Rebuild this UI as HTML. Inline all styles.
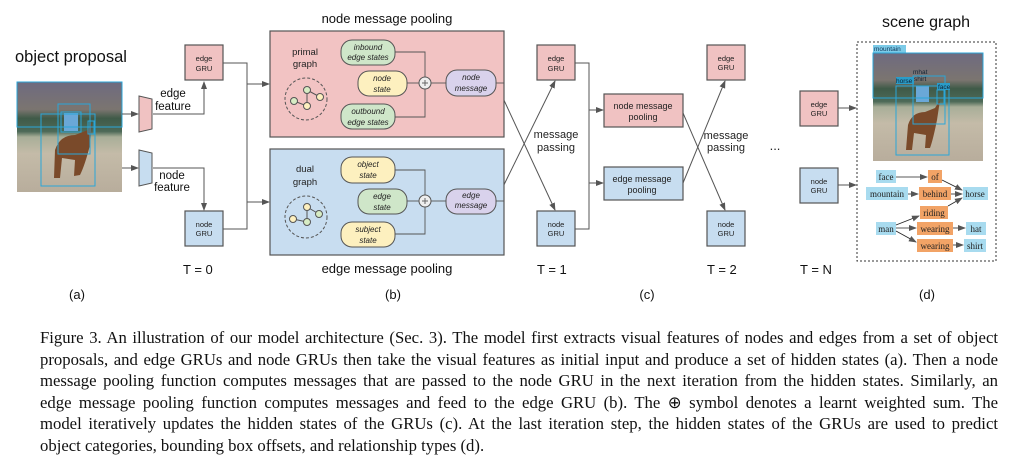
<!DOCTYPE html>
<html><head><meta charset="utf-8"><style>
body{margin:0;width:1010px;height:466px;background:#fff;overflow:hidden;position:relative}
svg{position:absolute;left:0;top:0}
.cap{position:absolute;left:40px;width:958px;font-family:"Liberation Serif",serif;font-size:16.7px;line-height:21.5px;top:327px;color:#111}
.cap div{text-align:justify;text-align-last:justify;white-space:nowrap}
.cap div.l{text-align-last:left}
</style></head><body>
<svg width="1010" height="320" viewBox="0 0 1010 320" font-family="Liberation Sans, sans-serif">
<defs>
<marker id="a" markerWidth="8" markerHeight="8" refX="7" refY="4" orient="auto" markerUnits="userSpaceOnUse"><path d="M0,1 L8,4 L0,7z" fill="#555"/></marker>
<linearGradient id="ph" x1="0" y1="0" x2="0" y2="1">
<stop offset="0" stop-color="#6e6a80"/><stop offset="0.25" stop-color="#7b7570"/><stop offset="0.33" stop-color="#3f5a48"/><stop offset="0.45" stop-color="#4d6a58"/><stop offset="0.5" stop-color="#a8ae98"/><stop offset="0.65" stop-color="#c4bba8"/><stop offset="1" stop-color="#b8ad9c"/></linearGradient>
</defs>
<g fill="#111"><text x="15" y="62" font-size="16.5">object proposal</text>
<text x="387" y="23" font-size="13" text-anchor="middle">node message pooling</text>
<text x="387" y="273" font-size="13" text-anchor="middle">edge message pooling</text>
<text x="926" y="27" font-size="16" text-anchor="middle">scene graph</text>
<g font-size="13" text-anchor="middle"><text x="77" y="299">(a)</text><text x="393" y="299">(b)</text><text x="647" y="299">(c)</text><text x="927" y="299">(d)</text></g>
<g font-size="13"><text x="183" y="274">T = 0</text><text x="537" y="274">T = 1</text><text x="707" y="274">T = 2</text><text x="800" y="274">T = N</text></g>
</g>
<rect x="17" y="82" width="105" height="110" fill="url(#ph)"/>
<path d="M55,150 Q60,135 75,135 L88,130 L92,122 L90,145 Q85,165 80,175 L74,176 L75,160 L62,158 L60,178 L54,178 Z" fill="#7a4a2a"/>
<rect x="64" y="113" width="14" height="18" fill="#6aa8d8"/>
<g fill="none" stroke="#2aa6d8" stroke-width="1"><rect x="17" y="82" width="105" height="45"/><rect x="41" y="114" width="54" height="72"/><rect x="58" y="104" width="32" height="50"/><rect x="61" y="112" width="20" height="20"/><rect x="88" y="121" width="6" height="13"/></g>
<path d="M139,96 L152,99 L152,129 L139,132Z" fill="#f0c2c2" stroke="#555"/>
<path d="M139,150 L152,153 L152,183 L139,186Z" fill="#c7ddf0" stroke="#555"/>
<g fill="#111" font-size="11.5" text-anchor="middle"><text x="173" y="97">edge</text><text x="173" y="110">feature</text><text x="172" y="179">node</text><text x="172" y="191">feature</text></g>
<g fill="none" stroke="#555" stroke-width="1">
<path d="M122,114 L138,114" marker-end="url(#a)"/><path d="M122,168 L138,168" marker-end="url(#a)"/>
<path d="M153,114 L204,114 L204,82" marker-end="url(#a)"/><path d="M153,168 L204,168 L204,210" marker-end="url(#a)"/>
<path d="M223,63 L247,63 L247,229 L223,229"/><path d="M247,84 L269,84" marker-end="url(#a)"/><path d="M247,202 L269,202" marker-end="url(#a)"/>
<path d="M575,63 L589,63 L589,229 L575,229"/><path d="M589,110 L603,110" marker-end="url(#a)"/><path d="M589,183 L603,183" marker-end="url(#a)"/>
<path d="M496,83 L555,210" marker-end="url(#a)"/><path d="M496,201 L555,81" marker-end="url(#a)"/>
<path d="M683,113 L725,210" marker-end="url(#a)"/><path d="M683,183 L725,81" marker-end="url(#a)"/>
<path d="M838,108 L856,108" marker-end="url(#a)"/><path d="M838,185 L856,185" marker-end="url(#a)"/>
</g>
<g stroke="#555" stroke-width="1.2">
<rect x="185" y="45" width="38" height="35" fill="#f0c2c2"/><rect x="185" y="211" width="38" height="35" fill="#c7ddf0"/>
<rect x="537" y="45" width="38" height="35" fill="#f0c2c2"/><rect x="537" y="211" width="38" height="35" fill="#c7ddf0"/>
<rect x="707" y="45" width="38" height="35" fill="#f0c2c2"/><rect x="707" y="211" width="38" height="35" fill="#c7ddf0"/>
<rect x="800" y="91" width="38" height="35" fill="#f0c2c2"/><rect x="800" y="168" width="38" height="35" fill="#c7ddf0"/>
<rect x="604" y="94" width="79" height="33" fill="#f0c2c2"/><rect x="604" y="167" width="79" height="33" fill="#c7ddf0"/>
<rect x="270" y="31" width="234" height="106" fill="#f2c3c3"/><rect x="270" y="149" width="234" height="106" fill="#c8ddf0"/>
</g>
<g fill="#222" font-size="7.5" text-anchor="middle">
<text x="204" y="61">edge</text><text x="204" y="71">GRU</text><text x="204" y="227">node</text><text x="204" y="236">GRU</text>
<text x="556" y="61">edge</text><text x="556" y="71">GRU</text><text x="556" y="227">node</text><text x="556" y="236">GRU</text>
<text x="726" y="61">edge</text><text x="726" y="70">GRU</text><text x="726" y="227">node</text><text x="726" y="236">GRU</text>
<text x="819" y="107">edge</text><text x="819" y="116">GRU</text><text x="819" y="184">node</text><text x="819" y="193">GRU</text>
</g>
<g fill="#222" font-size="9" text-anchor="middle">
<text x="643" y="109">node message</text><text x="643" y="120">pooling</text><text x="642" y="182">edge message</text><text x="642" y="193">pooling</text>
</g>
<g fill="#222" font-size="11" text-anchor="middle">
<text x="556" y="138">message</text><text x="556" y="151">passing</text><text x="726" y="139">message</text><text x="726" y="151">passing</text>
<text x="775" y="150" font-size="13">...</text>
<text x="305" y="55" font-size="9.5">primal</text><text x="305" y="67" font-size="9.5">graph</text>
<text x="305" y="172" font-size="9.5">dual</text><text x="305" y="185" font-size="9.5">graph</text>
</g>
<g fill="none" stroke="#555" stroke-width="0.9">
<path d="M395,52 L425,52 L425,117 L395,117"/><path d="M407,83 L419,83"/><path d="M431,83 L446,83"/><path d="M496,83 L504,83"/>
<path d="M395,170 L425,170 L425,234 L395,234"/><path d="M407,201 L419,201"/><path d="M431,201 L446,201"/><path d="M496,201 L504,201"/>
</g>
<g stroke="#555" stroke-width="1">
<rect x="341" y="40" width="54" height="25" rx="11" fill="#cfe6c9"/><rect x="358" y="71" width="49" height="25" rx="11" fill="#fdf0bf"/><rect x="341" y="104" width="54" height="25" rx="11" fill="#cfe6c9"/><rect x="446" y="70" width="50" height="26" rx="11" fill="#d9d2ec"/>
<rect x="341" y="157" width="54" height="26" rx="11" fill="#fdf0bf"/><rect x="358" y="189" width="49" height="25" rx="11" fill="#cfe6c9"/><rect x="341" y="222" width="54" height="25" rx="11" fill="#fdf0bf"/><rect x="446" y="189" width="50" height="25" rx="11" fill="#d9d2ec"/>
<circle cx="425" cy="83" r="6" fill="#eee"/><circle cx="425" cy="201" r="6" fill="#eee"/>
</g>
<g stroke="#666" stroke-width="1"><path d="M422,83h6M425,80v6M422,201h6M425,198v6"/></g>
<g fill="#222" font-size="8" font-style="italic" text-anchor="middle">
<text x="368" y="50">inbound</text><text x="368" y="60">edge states</text><text x="382" y="81">node</text><text x="382" y="92">state</text><text x="368" y="114">outbound</text><text x="368" y="125">edge states</text><text x="471" y="80">node</text><text x="471" y="91">message</text>
<text x="368" y="167">object</text><text x="368" y="178">state</text><text x="382" y="199">edge</text><text x="382" y="210">state</text><text x="368" y="232">subject</text><text x="368" y="243">state</text><text x="471" y="198">edge</text><text x="471" y="208">message</text>
</g>
<g><circle cx="306" cy="99" r="21" fill="none" stroke="#555" stroke-dasharray="3,2"/>
<path d="M294,101 L307,106 L307,90 L320,97" fill="none" stroke="#555"/>
<circle cx="294" cy="101" r="3.5" fill="#d7ecc4" stroke="#555"/><circle cx="307" cy="106" r="3.5" fill="#fdf0bf" stroke="#555"/><circle cx="307" cy="90" r="3.5" fill="#d7ecc4" stroke="#555"/><circle cx="320" cy="97" r="3.5" fill="#fdf0bf" stroke="#555"/>
<circle cx="306" cy="217" r="21" fill="none" stroke="#555" stroke-dasharray="3,2"/>
<path d="M293,219 L307,222 L307,207 L319,214" fill="none" stroke="#555"/>
<circle cx="293" cy="219" r="3.5" fill="#fdf0bf" stroke="#555"/><circle cx="307" cy="222" r="3.5" fill="#d7ecc4" stroke="#555"/><circle cx="307" cy="207" r="3.5" fill="#fdf0bf" stroke="#555"/><circle cx="319" cy="214" r="3.5" fill="#d7ecc4" stroke="#555"/></g>
<rect x="857" y="42" width="139" height="219" fill="none" stroke="#333" stroke-dasharray="2,2"/>
<rect x="873" y="53" width="110" height="108" fill="url(#ph)"/>
<path d="M908,125 Q912,112 925,112 L935,108 L940,100 L937,120 Q933,140 930,148 L925,148 L926,135 L914,133 L912,150 L906,150 Z" fill="#7a4a2a"/>
<rect x="916" y="86" width="13" height="16" fill="#6aa8d8"/>
<rect x="873" y="45" width="33" height="8" fill="#7ccbe8"/><text x="874" y="51" font-size="6.5" fill="#135">mountain</text>
<g fill="none" stroke="#2aa6d8"><rect x="873" y="53" width="110" height="45"/><rect x="896" y="86" width="53" height="69"/><rect x="913" y="76" width="32" height="48"/><rect x="937" y="90" width="7" height="14"/></g>
<g font-size="6.5" fill="#123"><rect x="896" y="77" width="18" height="7" fill="#2a9cc8"/><text x="896" y="83">horse</text><text x="913" y="74">mhat</text><text x="914" y="81">shirt</text><rect x="937" y="83" width="13" height="7" fill="#2a9cc8"/><text x="938" y="89">face</text></g>
<g font-family="Liberation Serif, serif" font-size="9" fill="#222" text-anchor="middle">
<rect x="876" y="170" width="20" height="13" fill="#a8dbef"/><text x="886" y="180">face</text>
<rect x="928" y="170" width="14" height="13" fill="#f2a366"/><text x="935" y="180">of</text>
<rect x="866" y="187" width="42" height="13" fill="#a8dbef"/><text x="887" y="197">mountain</text>
<rect x="919" y="187" width="32" height="13" fill="#f2a366"/><text x="935" y="197">behind</text>
<rect x="963" y="187" width="25" height="13" fill="#a8dbef"/><text x="975" y="197">horse</text>
<rect x="920" y="206" width="28" height="13" fill="#f2a366"/><text x="934" y="216">riding</text>
<rect x="876" y="222" width="20" height="13" fill="#a8dbef"/><text x="886" y="232">man</text>
<rect x="917" y="222" width="36" height="13" fill="#f2a366"/><text x="935" y="232">wearing</text>
<rect x="966" y="222" width="20" height="13" fill="#a8dbef"/><text x="976" y="232">hat</text>
<rect x="917" y="239" width="36" height="13" fill="#f2a366"/><text x="935" y="249">wearing</text>
<rect x="964" y="239" width="22" height="13" fill="#a8dbef"/><text x="975" y="249">shirt</text>
</g>
<g fill="none" stroke="#222" stroke-width="0.8">
<path d="M896,177 L927,177" marker-end="url(#a)"/><path d="M908,194 L918,194" marker-end="url(#a)"/><path d="M951,194 L962,194" marker-end="url(#a)"/>
<path d="M942,180 L962,190" marker-end="url(#a)"/><path d="M948,206 L962,198" marker-end="url(#a)"/>
<path d="M896,225 L919,216" marker-end="url(#a)"/><path d="M896,228 L916,228" marker-end="url(#a)"/><path d="M896,231 L916,242" marker-end="url(#a)"/>
<path d="M953,228 L965,228" marker-end="url(#a)"/><path d="M953,245 L963,245" marker-end="url(#a)"/>
</g>
</svg>
<div class="cap">
<div>Figure 3. An illustration of our model architecture (Sec. 3). The model first extracts visual features of nodes and edges from a set of object</div>
<div>proposals, and edge GRUs and node GRUs then take the visual features as initial input and produce a set of hidden states (a). Then a node</div>
<div>message pooling function computes messages that are passed to the node GRU in the next iteration from the hidden states. Similarly, an</div>
<div>edge message pooling function computes messages and feed to the edge GRU (b). The ⊕ symbol denotes a learnt weighted sum. The</div>
<div>model iteratively updates the hidden states of the GRUs (c). At the last iteration step, the hidden states of the GRUs are used to predict</div>
<div class="l">object categories, bounding box offsets, and relationship types (d).</div>
</div>
</body></html>
